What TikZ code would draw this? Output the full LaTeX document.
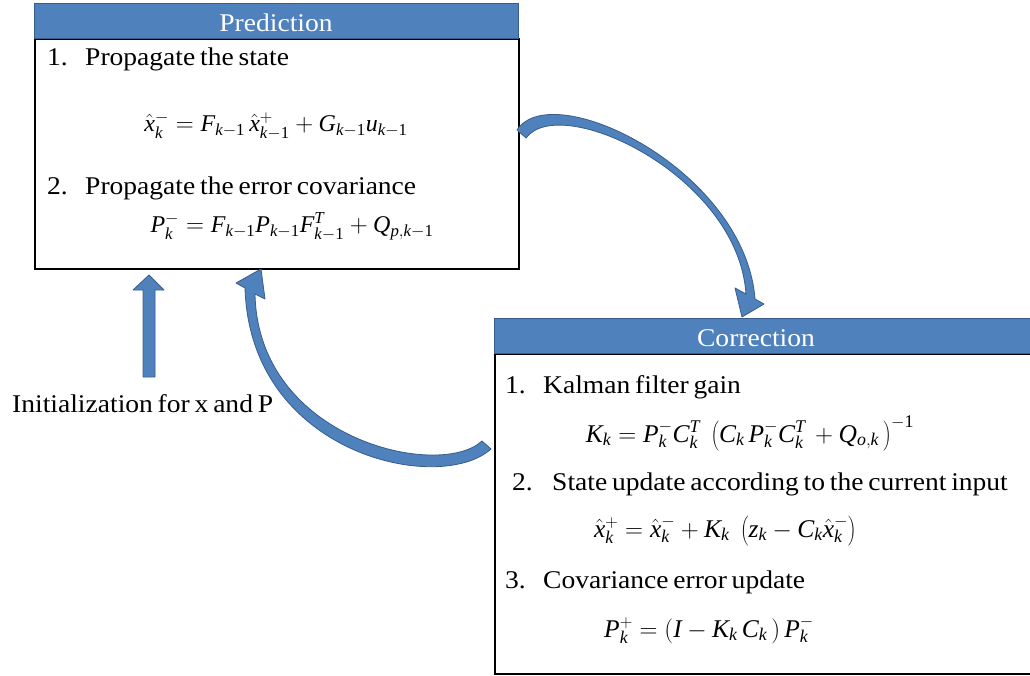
\documentclass[tikz,border=0pt]{standalone}
\usepackage{mathspec}
\setmainfont{Liberation Serif}[FakeStretch=1.08,WordSpace=0.7]
\setmathsfont(Digits,Latin){Liberation Serif}
\definecolor{hdr}{RGB}{79,129,189}
\definecolor{hdrline}{RGB}{56,93,138}
\begin{document}
\begin{tikzpicture}[x=1pt,y=-1pt,
  bodybox/.style={draw=black,line width=2pt,fill=white,rectangle,inner sep=0pt,anchor=north west},
  hdrbox/.style={fill=hdr,draw=hdrline,line width=1pt,rectangle,inner sep=0pt,anchor=north west},
  blk/.style={fill=hdr,draw=hdrline,line width=0.8pt,line join=round},
  txt/.style={anchor=base west,inner sep=0pt,font=\fontsize{25.5}{30}\selectfont},
  ttl/.style={anchor=base,inner sep=0pt,text=white,font=\fontsize{25.5}{30}\selectfont},
  eq/.style={anchor=base,inner sep=0pt,font=\fontsize{24}{28}\selectfont},
  eqb/.style={anchor=base,inner sep=0pt,font=\fontsize{25.5}{30}\selectfont}]
\useasboundingbox (0,0) rectangle (1030,676);
\clip (0,0) rectangle (1030,676);
% Prediction box
\node[bodybox,minimum width=484pt,minimum height=230pt] (pred) at (34,38) {};
\node[hdrbox,minimum width=484pt,minimum height=35pt] (predh) at (34,3) {};
\node[ttl] (predt) at (276,32) {Prediction};
\node[txt] (p1n) at (47,66) {1.};
\node[txt] (p1) at (85,66) {Propagate the state};
\node[eq] (e1) at (276,132) {$\hat{x}_k^{-} = F_{k-1}\,\hat{x}_{k-1}^{+} + G_{k-1}u_{k-1}$};
\node[txt] (p2n) at (47,195) {2.};
\node[txt] (p2) at (85,195) {Propagate the error covariance};
\node[eq] (e2) at (292,233) {$P_k^{-} = F_{k-1}P_{k-1}F_{k-1}^{T} + Q_{p,k-1}$};
% Correction box
\node[bodybox,minimum width=541pt,minimum height=320pt] (corr) at (494,353) {};
\node[hdrbox,minimum width=541pt,minimum height=35pt] (corrh) at (494,318) {};
\node[ttl] (corrt) at (756,346) {Correction};
\node[txt] (c1n) at (505,393) {1.};
\node[txt] (c1) at (543,393) {Kalman filter gain};
\node[eqb] (e3) at (750,442) {$K_k = P_k^{-}C_k^{T}\;\left(C_k\,P_k^{-}C_k^{T}\, + Q_{o,k}\,\right)^{-1}$};
\node[txt] (c2n) at (512,490) {2.};
\node[txt] (c2) at (552,490) {State update according to the current input};
\node[eqb] (e4) at (725,537) {$\hat{x}_k^{+} = \hat{x}_k^{-} + K_k\;\left(z_k - C_k\hat{x}_k^{-}\right)$};
\node[txt] (c3n) at (505,588) {3.};
\node[txt] (c3) at (543,588) {Covariance error update};
\node[eqb] (e5) at (709,637) {$P_k^{+} = \left(I - K_k\,C_k\,\right)P_k^{-}$};
% Initialization
\node[txt] (init) at (12,412) {Initialization for x and P};
% arrows
\fill[blk] (143,377) -- (143,290) -- (133,290) -- (149,275) -- (164,290) -- (155,290) -- (155,377) -- cycle;
\filldraw[blk] (517,130) .. controls (552,76) and (745,170) .. (755,299) -- (764,304) -- (742,317) -- (735,288) -- (746,294) .. controls (738,175) and (560,92) .. (526,138) -- cycle;
\filldraw[blk] (491,449) .. controls (440,495) and (250,455) .. (245,288) -- (236,283) -- (261,269) -- (265,299) -- (255,294) .. controls (258,440) and (440,480) .. (482,441) -- cycle;
\end{tikzpicture}
\end{document}
